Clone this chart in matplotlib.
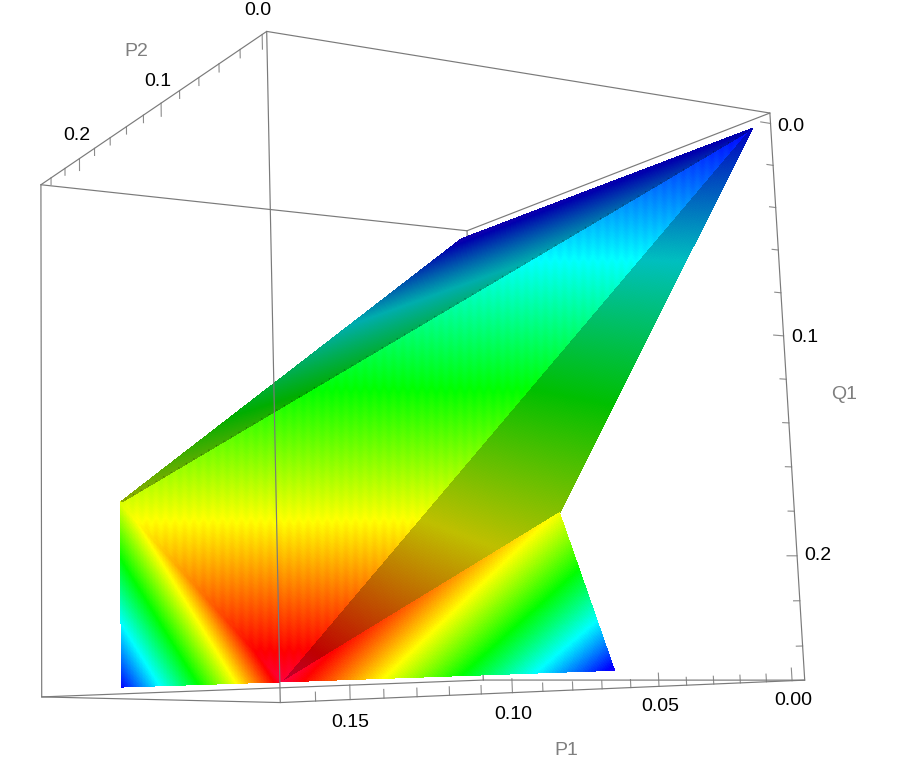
import numpy as np
import matplotlib
matplotlib.use("Agg")
import matplotlib.pyplot as plt
from matplotlib.colors import hsv_to_rgb
from mpl_toolkits.mplot3d.art3d import Poly3DCollection
from mpl_toolkits.mplot3d import proj3d

plt.rcParams['font.family'] = ['Liberation Sans', 'DejaVu Sans']

# box of the plot (P1, P2, Q1)
p1_range = [-0.005, 0.17]
p2_range = [-0.004, 0.255]
q1_range = [-0.005, 0.255]

# where the box corners sit in the picture, used as the camera
corner_index = [(1,0,0),(1,1,0),(0,0,0),(0,1,0),(1,0,1),(1,1,1),(0,0,1),(0,1,1)]
corner_px = [(266.5,31.5),(41,184.5),(770,113.3),(467,230.7),
             (280,702.3),(42,697.3),(805,680),(483,680)]

# vertices of the region (P1, P2, Q1)
A = [-0.00374, 0.00679, 0.0]
B = [-0.00285, 0.2561, 0.0]
C = [0.16477, 0.16967, 0.1657]
D = [0.16477, 0.17022, 0.25]
E = [0.1152, 0.15203, 0.25]
F = [0.08007, 0.0, 0.18236]
G = [-0.00702, 0.13781, 0.25]

# facets: vertices, hue in degrees at each vertex, brightness
main_face = ([A, C, E], [240, 68, -15], 1.0)
upper_strip = ([A, B, C], [240, 245, 70], 0.68)
right_face = ([A, E, F], [240, -15, 78], 0.75)
left_face = ([C, D, E], [68, 240, -15], 1.0)
lower_face = ([E, F, G], [-15, 62, 245], 1.0)

p1_ticks = [0.0,0.01,0.02,0.03,0.04,0.05,0.06,0.07,0.08,0.09,0.10,0.11,0.12,0.13,0.14,0.15,0.16]
p1_major = {0.0:"0.00", 0.05:"0.05", 0.10:"0.10", 0.15:"0.15"}
p2_ticks = [0.0,0.02,0.04,0.06,0.08,0.10,0.12,0.14,0.16,0.18,0.20,0.22,0.24]
p2_major = {0.0:"0.0", 0.10:"0.1", 0.20:"0.2"}
p2_label_gap = {0.0:0.0097, 0.10:0.0097, 0.20:0.0115}
q1_ticks = [0.0,0.02,0.04,0.06,0.08,0.10,0.12,0.14,0.16,0.18,0.20,0.22,0.24]
q1_major = {0.0:"0.0", 0.10:"0.1", 0.20:"0.2"}

line_col = '#7a7a7a'
tick_col = '#8c8c8c'
label_col = '#7f7f7f'

fig = plt.figure(figsize=(9.02, 7.66), dpi=100)
ax = fig.add_axes([-0.1, -0.2, 1.2, 1.4], projection='3d', computed_zorder=False)
ax.set_axis_off()
ax.autoscale(False)
ax.set_proj_type('ortho')  # only so lines are not clipped, the matrix comes from below

# camera: fit the projection to the box corners instead of using azim/elev
ax.apply_aspect()
to_view = ax.transData.inverted()
rows = []
rhs = []
for (a, b, c), (px, py) in zip(corner_index, corner_px):
    x, y, z = p1_range[a], p2_range[b], q1_range[c]
    u, v = to_view.transform((px, 766 - py))
    rows.append([x, y, z, 1, 0, 0, 0, 0, -u*x, -u*y, -u*z])
    rhs.append(u)
    rows.append([0, 0, 0, 0, x, y, z, 1, -v*x, -v*y, -v*z])
    rhs.append(v)
sol = np.linalg.lstsq(np.array(rows), np.array(rhs), rcond=None)[0]
cam = np.append(sol, 1).reshape(3, 4)
depth_row = np.linalg.svd(cam)[2][-1]
M = np.vstack([cam[0], cam[1], depth_row, cam[2]])
ax.get_proj = lambda: M


def draw_facet(facet, zorder, n=110, stripes=False):
    verts, hues, value = facet
    verts = np.array(verts)
    hues = np.array(hues, dtype=float)
    tris = []
    weights = []
    for i in range(n):
        for j in range(n - i):
            a = np.array([i, j, n - i - j]) / n
            b = np.array([i + 1, j, n - i - j - 1]) / n
            c = np.array([i, j + 1, n - i - j - 1]) / n
            tris.append([a, b, c])
            weights.append((a + b + c) / 3)
            if i + j < n - 1:
                d = np.array([i + 1, j + 1, n - i - j - 2]) / n
                tris.append([b, d, c])
                weights.append((b + d + c) / 3)
    tris = np.array(tris) @ verts
    w = np.array(weights)
    h = w @ hues
    if stripes:
        # faint vertical bands of the mesh on the big face
        mid = w @ verts
        su, sv, _ = proj3d.proj_transform(mid[:, 0], mid[:, 1], mid[:, 2], M)
        sx = ax.transData.transform(np.column_stack([su, sv]))[:, 0]
        h = h + 1.3 * np.cos(2 * np.pi * sx / 9.5)
    h = h / 360 % 1
    hsv = np.column_stack([h, np.ones_like(h), np.full_like(h, value)])
    rgb = hsv_to_rgb(hsv)
    ax.add_collection3d(Poly3DCollection(tris, facecolors=rgb, edgecolors=rgb,
                                         linewidths=0.5, antialiased=False, zorder=zorder))


def edge(a, b, zorder=6):
    pts = [[p1_range[i[0]], p2_range[i[1]], q1_range[i[2]]] for i in (a, b)]
    xs, ys, zs = zip(*pts)
    ax.plot(xs, ys, zs, color=line_col, lw=0.85, zorder=zorder, solid_capstyle='round')


def label(x, y, z, s, color='black'):
    u, v, _ = proj3d.proj_transform(x, y, z, M)
    ax.text2D(u, v, s, transform=ax.transData, fontsize=14, ha='center', va='center', color=color)


# hidden vertical edge goes behind the surface
edge((0,1,0), (0,1,1), zorder=1)
draw_facet(main_face, 2, n=400, stripes=True)
draw_facet(upper_strip, 3)
draw_facet(right_face, 3)
draw_facet(left_face, 3)
draw_facet(lower_face, 3)

# small steps along the border of the dark strip
ax.plot([A[0], C[0]], [A[1], C[1]], [A[2], C[2]], color='black', alpha=0.3, lw=0.9,
        ls=(0, (1, 6)), zorder=4)

for a, b in [((1,0,0),(1,1,0)), ((1,0,0),(0,0,0)), ((1,1,0),(0,1,0)), ((0,0,0),(0,1,0)),
             ((1,0,0),(1,0,1)), ((1,1,0),(1,1,1)), ((0,0,0),(0,0,1)),
             ((1,0,1),(1,1,1)), ((1,0,1),(0,0,1)), ((1,1,1),(0,1,1)), ((0,0,1),(0,1,1))]:
    edge(a, b)

# ticks and labels
for t in p1_ticks:
    key = round(t, 2)
    ln = 0.0055 if key in p1_major else 0.0033
    ax.plot([t, t], [p2_range[0]]*2, [q1_range[1], q1_range[1] - ln], color=tick_col, lw=0.8, zorder=5)
    if key in p1_major:
        label(t, p2_range[0], q1_range[1] + 0.0085, p1_major[key])
for t in p2_ticks:
    key = round(t, 2)
    ln = 0.006 if key in p2_major else 0.0035
    ax.plot([p1_range[1]]*2, [t, t], [q1_range[0], q1_range[0] + ln], color=tick_col, lw=0.8, zorder=5)
    if key in p2_major:
        label(p1_range[1] + 0.001, t, q1_range[0] - p2_label_gap[key], p2_major[key])
for t in q1_ticks:
    key = round(t, 2)
    ln = 0.004 if key in q1_major else 0.0025
    ax.plot([p1_range[0], p1_range[0] + ln], [p2_range[0]]*2, [t, t], color=tick_col, lw=0.8, zorder=5)
    if key in q1_major:
        label(p1_range[0] - 0.0085, p2_range[0], t, q1_major[key])

label(0.083, p2_range[0], 0.279, "P1", label_col)
label(p1_range[1], 0.127, q1_range[0] - 0.032, "P2", label_col)
label(-0.0285, p2_range[0], 0.1255, "Q1", label_col)

fig.savefig('out.png', dpi=100, facecolor='white')
